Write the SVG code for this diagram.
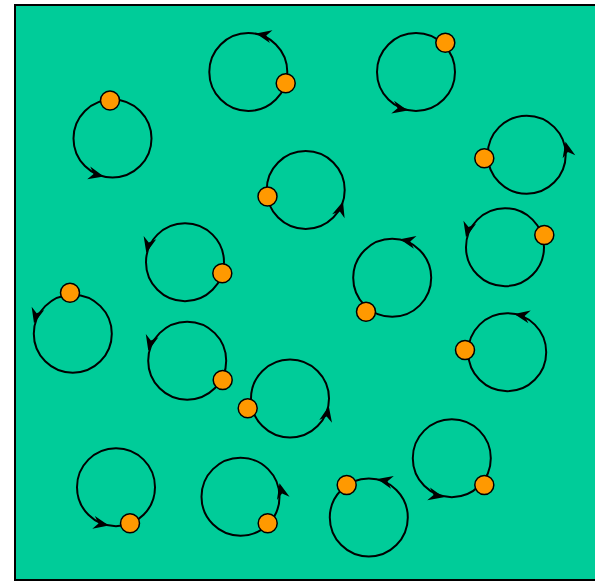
<svg xmlns="http://www.w3.org/2000/svg" xmlns:xlink="http://www.w3.org/1999/xlink" width="595" height="582" viewBox="0 0 595 582">
<style>
.orbit{fill:none;stroke:#000;stroke-width:2}
.dot{fill:#FF9900;stroke:#000;stroke-width:1.5}
.ah{fill:#000;stroke:none}
</style>
<defs>
<path id="ah" class="ah" d="M0,0 L-15.5,-6.5 L-10.5,0 L-15.5,6.5 Z"/>
</defs>
<rect x="15" y="5" width="590" height="575" fill="#00CC99" stroke="#000" stroke-width="2"/>
<g id="n1"><circle class="orbit" cx="112.5" cy="138.5" r="39"/><use xlink:href="#ah" transform="translate(103.8,176.5) rotate(13.5)"/><circle class="dot" cx="110" cy="100.5" r="9.5"/></g>
<g id="n2"><circle class="orbit" cx="248.3" cy="72" r="39"/><use xlink:href="#ah" transform="translate(256,33.5) rotate(-168.7)"/><circle class="dot" cx="285.7" cy="83.3" r="9.5"/></g>
<g id="n3"><circle class="orbit" cx="416" cy="72" r="39"/><use xlink:href="#ah" transform="translate(407.8,110.5) rotate(12.6)"/><circle class="dot" cx="445.3" cy="42.7" r="9.5"/></g>
<g id="n4"><circle class="orbit" cx="526.7" cy="154.7" r="39"/><use xlink:href="#ah" transform="translate(565.5,141.7) rotate(-103)"/><circle class="dot" cx="484.3" cy="158.3" r="9.5"/></g>
<g id="n5"><circle class="orbit" cx="305.7" cy="190" r="39"/><use xlink:href="#ah" transform="translate(343,201.5) rotate(-72.7)"/><circle class="dot" cx="267.5" cy="196.5" r="9.5"/></g>
<g id="n6"><circle class="orbit" cx="185" cy="262.2" r="39"/><use xlink:href="#ah" transform="translate(146.3,252.7) rotate(103.6)"/><circle class="dot" cx="222.3" cy="273.3" r="9.5"/></g>
<g id="n7"><circle class="orbit" cx="505" cy="247.2" r="39"/><use xlink:href="#ah" transform="translate(466,237.3) rotate(104)"/><circle class="dot" cx="544.3" cy="235" r="9.5"/></g>
<g id="n8"><circle class="orbit" cx="72.8" cy="333.7" r="39"/><use xlink:href="#ah" transform="translate(34,323.3) rotate(104.7)"/><circle class="dot" cx="70" cy="292.7" r="9.5"/></g>
<g id="n9"><circle class="orbit" cx="392.2" cy="277.8" r="39"/><use xlink:href="#ah" transform="translate(400,239.3) rotate(-168.5)"/><circle class="dot" cx="366" cy="311.7" r="9.5"/></g>
<g id="n10"><circle class="orbit" cx="187.2" cy="360.7" r="39"/><use xlink:href="#ah" transform="translate(148.3,350.7) rotate(104.2)"/><circle class="dot" cx="222.7" cy="380" r="9.5"/></g>
<g id="n11"><circle class="orbit" cx="507.2" cy="352.2" r="39"/><use xlink:href="#ah" transform="translate(514.3,314) rotate(-169.5)"/><circle class="dot" cx="465" cy="350" r="9.5"/></g>
<g id="n12"><circle class="orbit" cx="290" cy="398.5" r="39"/><use xlink:href="#ah" transform="translate(328.8,406.2) rotate(-78.2)"/><circle class="dot" cx="247.7" cy="408.3" r="9.5"/></g>
<g id="n13"><circle class="orbit" cx="116" cy="487.2" r="39"/><use xlink:href="#ah" transform="translate(108.8,525.5) rotate(11.2)"/><circle class="dot" cx="130" cy="523.3" r="9.5"/></g>
<g id="n14"><circle class="orbit" cx="240.5" cy="496.7" r="39"/><use xlink:href="#ah" transform="translate(279.5,483.3) rotate(-104)"/><circle class="dot" cx="267.7" cy="523.3" r="9.5"/></g>
<g id="n15"><circle class="orbit" cx="368.8" cy="517.5" r="39"/><use xlink:href="#ah" transform="translate(377.3,479) rotate(-167.5)"/><circle class="dot" cx="346.7" cy="485" r="9.5"/></g>
<g id="n16"><circle class="orbit" cx="451.8" cy="458.2" r="39"/><use xlink:href="#ah" transform="translate(443.8,497.2) rotate(12.1)"/><circle class="dot" cx="484.3" cy="485" r="9.5"/></g>
<g id="connectors"></g>
</svg>
